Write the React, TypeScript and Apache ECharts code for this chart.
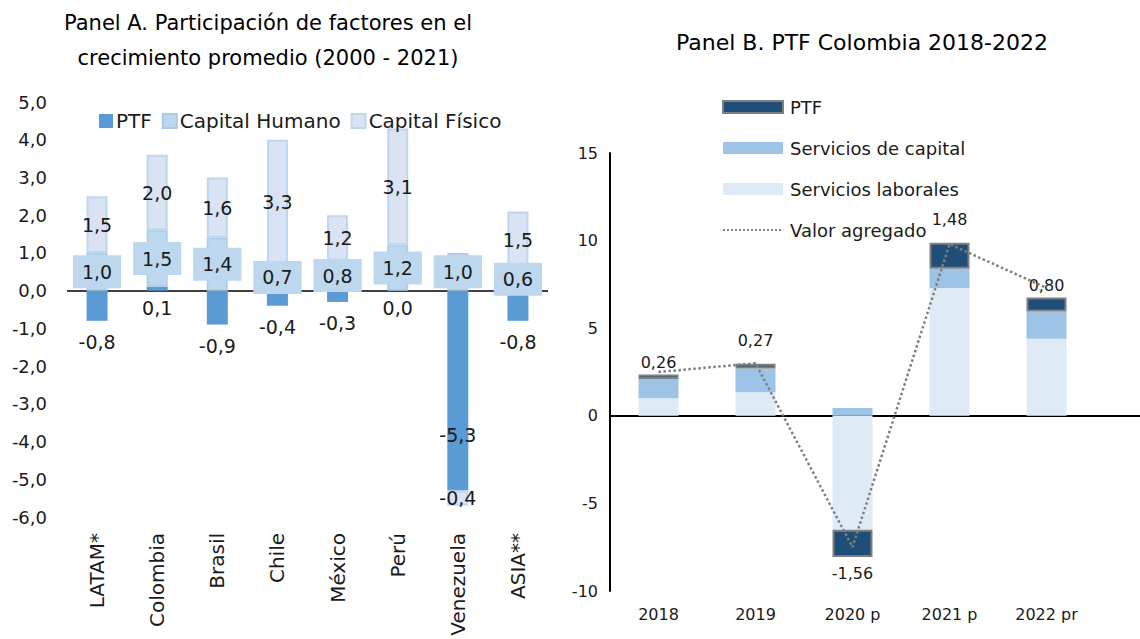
import React, { useEffect, useRef } from "react";
import * as echarts from "echarts";

// ---------- Panel A data ----------
const countries = ["LATAM*", "Colombia", "Brasil", "Chile", "México", "Perú", "Venezuela", "ASIA**"];
const ptfA = [-0.8, 0.1, -0.9, -0.4, -0.3, 0.0, -5.3, -0.8];
const capHumano = [1.0, 1.5, 1.4, 0.7, 0.8, 1.2, 1.0, 0.6];
const capFisico = [1.5, 2.0, 1.6, 3.3, 1.2, 3.1, -0.4, 1.5];
const yTicksA = { min: -6, max: 5, interval: 1 };

// ---------- Panel B data ----------
const years = ["2018", "2019", "2020 p", "2021 p", "2022 pr"];
const servLaborales = [1.0, 1.35, -6.5, 7.3, 4.4];
const servCapital = [1.1, 1.35, 0.45, 1.1, 1.55];
const ptfB = [0.26, 0.27, -1.56, 1.48, 0.8];
const valorAgregado = [2.5, 3.0, -7.5, 9.8, 7.3];
const yTicksB = { min: -10, max: 15, interval: 5 };

const FONT = "'DejaVu Sans', sans-serif";
const TXT = "#1a1a1a";

const fmt1 = (v: number) => v.toFixed(1).replace(".", ",");
const fmt2 = (v: number) => v.toFixed(2).replace(".", ",");

function optionA(): any {
  return {
    animation: false,
    textStyle: { fontFamily: FONT, color: TXT },
    graphic: [
      {
        type: "text",
        x: 268,
        y: 40,
        style: {
          text: "Panel A. Participación de factores en el\ncrecimiento promedio (2000 - 2021)",
          font: `21px ${FONT}`,
          fill: "#000",
          textAlign: "center",
          textVerticalAlign: "middle",
          lineHeight: 35,
        },
      },
    ],
    legend: {
      left: 94,
      top: 106,
      itemWidth: 14,
      itemHeight: 14,
      itemGap: 10,
      icon: "rect",
      textStyle: { fontSize: 20, color: TXT, fontFamily: FONT, padding: [0, 0, 0, -2] },
      data: ["PTF", "Capital Humano", "Capital Físico"],
    },
    grid: { left: 67, right: 12, top: 102, bottom: 122 },
    xAxis: {
      type: "category",
      data: countries,
      axisLine: { show: false, onZero: false },
      axisTick: { show: false },
      axisLabel: { rotate: 90, fontSize: 20, color: TXT, margin: 16, fontFamily: FONT },
    },
    yAxis: {
      type: "value",
      min: yTicksA.min,
      max: yTicksA.max,
      interval: yTicksA.interval,
      axisLine: { show: false },
      axisTick: { show: false },
      splitLine: { show: false },
      axisLabel: { fontSize: 18, color: TXT, margin: 20, formatter: (v: number) => fmt1(v) },
    },
    series: [
      {
        name: "PTF",
        type: "bar",
        stack: "a",
        barWidth: 21,
        data: ptfA.map((v, i) =>
          countries[i] === "Venezuela"
            ? { value: v, label: { position: "inside", offset: [0, 44] } }
            : v < 0
            ? { value: v, label: { distance: 12 } }
            : v
        ),
        itemStyle: { color: "#5b9bd5" },
        label: {
          show: true,
          position: "bottom",
          distance: 8,
          fontSize: 19,
          color: TXT,
          formatter: (p: any) => fmt1(p.value),
        },
        markLine: {
          silent: true,
          symbol: "none",
          label: { show: false },
          lineStyle: { color: "#000", type: "solid", width: 1.5 },
          data: [{ yAxis: 0 }],
          z: 1,
        },
      },
      {
        name: "Capital Humano",
        type: "bar",
        stack: "a",
        barWidth: 21,
        data: capHumano,
        itemStyle: { color: "#bdd7ee", borderColor: "#a9cbe9", borderWidth: 1.5 },
        label: {
          show: true,
          position: "inside",
          fontSize: 19,
          color: TXT,
          backgroundColor: "#bdd7ee",
          padding: [7, 9, 7, 9],
          formatter: (p: any) => fmt1(p.value),
        },
        z: 3,
      },
      {
        name: "Capital Físico",
        type: "bar",
        stack: "a",
        barWidth: 21,
        data: capFisico,
        itemStyle: { color: "#dae3f3", borderColor: "#bdd7ee", borderWidth: 2 },
        label: {
          show: true,
          position: "inside",
          fontSize: 19,
          color: TXT,
          formatter: (p: any) => fmt1(p.value),
        },
      },
    ],
  };
}

function optionB(): any {
  return {
    animation: false,
    textStyle: { fontFamily: FONT, color: TXT },
    graphic: [
      {
        type: "text",
        x: 302,
        y: 42,
        style: {
          text: "Panel B. PTF Colombia 2018-2022",
          font: `22px ${FONT}`,
          fill: "#000",
          textAlign: "center",
          textVerticalAlign: "middle",
        },
      },
    ],
    legend: {
      orient: "vertical",
      left: 157,
      top: 92,
      itemWidth: 60,
      itemHeight: 12,
      itemGap: 21,
      textStyle: { fontSize: 18, color: TXT, fontFamily: FONT, lineHeight: 20, padding: [0, 0, 0, 2] },
      data: [
        { name: "PTF", icon: "rect" },
        { name: "Servicios de capital", icon: "rect" },
        { name: "Servicios laborales", icon: "rect" },
        { name: "Valor agregado", itemStyle: { opacity: 0 } },
      ],
    },
    grid: [
      { left: 50, right: 45, top: 153, bottom: 48 },
      { left: 50, right: 0, top: 153, bottom: 48 },
    ],
    xAxis: [
      {
        type: "category",
        gridIndex: 0,
        data: years,
        axisLine: { show: false, onZero: false },
        axisTick: { show: false },
        axisLabel: { fontSize: 16, color: TXT, margin: 15 },
      },
      {
        type: "value",
        gridIndex: 1,
        min: 0,
        max: 1,
        axisLine: { show: true, onZero: true, lineStyle: { color: "#000", width: 2 } },
        axisTick: { show: false },
        axisLabel: { show: false },
        splitLine: { show: false },
      },
    ],
    yAxis: [
      {
        type: "value",
        gridIndex: 0,
        min: yTicksB.min,
        max: yTicksB.max,
        interval: yTicksB.interval,
        axisLine: { show: true, onZero: false, lineStyle: { color: "#000", width: 2 } },
        axisTick: { show: false },
        splitLine: { show: false },
        axisLabel: { fontSize: 16, color: TXT, margin: 12 },
      },
      {
        type: "value",
        gridIndex: 1,
        min: yTicksB.min,
        max: yTicksB.max,
        interval: yTicksB.interval,
        axisLine: { show: false },
        axisTick: { show: false },
        axisLabel: { show: false },
        splitLine: { show: false },
      },
    ],
    series: [
      {
        name: "Servicios laborales",
        type: "bar",
        stack: "b",
        barWidth: 40,
        data: servLaborales,
        itemStyle: { color: "#deebf7" },
      },
      {
        name: "Servicios de capital",
        type: "bar",
        stack: "b",
        barWidth: 40,
        data: servCapital,
        itemStyle: { color: "#9dc3e6" },
      },
      {
        name: "PTF",
        type: "bar",
        stack: "b",
        barWidth: 40,
        data: ptfB.map((v, i) => {
          const item: any = { value: v };
          if (v < 0) item.label = { position: "bottom", distance: 8 };
          if (years[i] === "2019" || years[i] === "2021 p") item.label = { distance: 15 };
          return item;
        }),
        itemStyle: { color: "#1f4e79", borderColor: "#7f7f7f", borderWidth: 2 },
        label: {
          show: true,
          position: "top",
          distance: 4,
          fontSize: 16,
          color: TXT,
          formatter: (p: any) => fmt2(p.value),
        },
      },
      {
        name: "Valor agregado",
        type: "line",
        data: valorAgregado,
        symbol: "none",
        lineStyle: { color: "#7f7f7f", type: "dotted", width: 2.5 },
        itemStyle: { color: "#7f7f7f" },
        z: 5,
      },
    ],
  };
}

export default function App() {
  const refA = useRef<HTMLDivElement>(null);
  const refB = useRef<HTMLDivElement>(null);

  useEffect(() => {
    document.body.style.margin = "0";
    const a = echarts.init(refA.current!, undefined, { renderer: "svg" });
    const b = echarts.init(refB.current!, undefined, { renderer: "svg" });
    a.setOption(optionA());
    b.setOption(optionB());
    return () => {
      a.dispose();
      b.dispose();
    };
  }, []);

  return (
    <div style={{ display: "flex", width: 1140, height: 639, background: "#fff" }}>
      <div ref={refA} style={{ width: 560, height: 639 }} />
      <div ref={refB} style={{ width: 580, height: 639 }} />
    </div>
  );
}
